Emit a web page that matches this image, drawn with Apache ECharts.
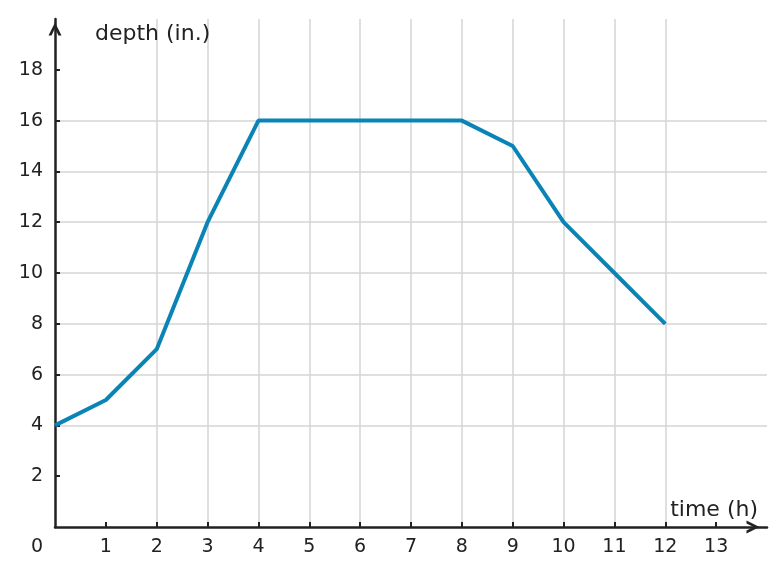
<!DOCTYPE html>
<html>
<head>
<meta charset="utf-8">
<script src="https://cdn.jsdelivr.net/npm/echarts@6/dist/echarts.min.js"></script>
<style>
  html, body { margin: 0; padding: 0; background: #fff; }
  #chart { width: 784px; height: 575px; }
</style>
</head>
<body>
<div id="chart"></div>
<script>
// 数据
const timeHours = [0, 1, 2, 3, 4, 5, 6, 7, 8, 9, 10, 11, 12];
const depthInches = [4, 5, 7, 12, 16, 16, 16, 16, 16, 15, 12, 10, 8];
const xTicks = [1, 2, 3, 4, 5, 6, 7, 8, 9, 10, 11, 12, 13];
const yTicks = [2, 4, 6, 8, 10, 12, 14, 16, 18];

const chart = echarts.init(document.getElementById('chart'));
const font = 'DejaVu Sans';
// 箭头 (开口 V 形)
const chevron = 'path://M0,12 L6,0 L12,12 L9.2,12 L6,5.4 L2.8,12 Z';

const option = {
  animation: false,
  grid: { left: 55, right: 17, top: 19, bottom: 48 },
  xAxis: {
    type: 'value',
    min: 0,
    max: 14,
    interval: 1,
    name: 'time (h)',
    nameLocation: 'end',
    nameGap: 0,
    nameTextStyle: {
      color: '#222', fontFamily: font, fontSize: 22,
      align: 'right', verticalAlign: 'bottom', padding: [0, 9, 6, 0]
    },
    axisLine: {
      show: true, onZero: false,
      symbol: ['none', chevron], symbolSize: [13, 14], symbolOffset: [0, -14],
      lineStyle: { color: '#222', width: 2.5 }
    },
    axisTick: { show: true, inside: true, length: 5, customValues: xTicks, lineStyle: { color: '#222', width: 2 } },
    axisLabel: {
      color: '#222', fontFamily: font, fontSize: 19, margin: 11,
      customValues: xTicks
    },
    splitLine: { show: true, showMinLine: false, showMaxLine: false, lineStyle: { color: '#d4d4d4', width: 1.5 } }
  },
  yAxis: {
    type: 'value',
    min: 0,
    max: 20,
    interval: 2,
    name: 'depth (in.)',
    nameLocation: 'end',
    nameGap: 0,
    nameTextStyle: {
      color: '#222', fontFamily: font, fontSize: 22,
      align: 'left', verticalAlign: 'top', padding: [4, 0, 0, 40]
    },
    axisLine: {
      show: true, onZero: false,
      symbol: ['none', chevron], symbolSize: [13, 14], symbolOffset: [0, -10],
      lineStyle: { color: '#222', width: 2.5 }
    },
    axisTick: { show: true, inside: true, length: 5, customValues: yTicks, lineStyle: { color: '#222', width: 2 } },
    axisLabel: {
      color: '#222', fontFamily: font, fontSize: 19, margin: 12,
      customValues: yTicks
    },
    splitLine: { show: true, showMinLine: false, showMaxLine: false, lineStyle: { color: '#d4d4d4', width: 1.5 } }
  },
  series: [{
    type: 'line',
    data: timeHours.map((t, i) => [t, depthInches[i]]),
    showSymbol: false,
    lineStyle: { color: '#0a84b6', width: 4 },
    z: 5
  }]
};

chart.setOption(option);

// 原点 "0" 标签
const origin = chart.convertToPixel({ gridIndex: 0 }, [0, 0]);
chart.setOption({
  graphic: [{
    type: 'text',
    left: origin[0] - 24,
    top: origin[1] + 11,
    style: { text: '0', fill: '#222', font: '19px "DejaVu Sans"' }
  }]
});
</script>
</body>
</html>
